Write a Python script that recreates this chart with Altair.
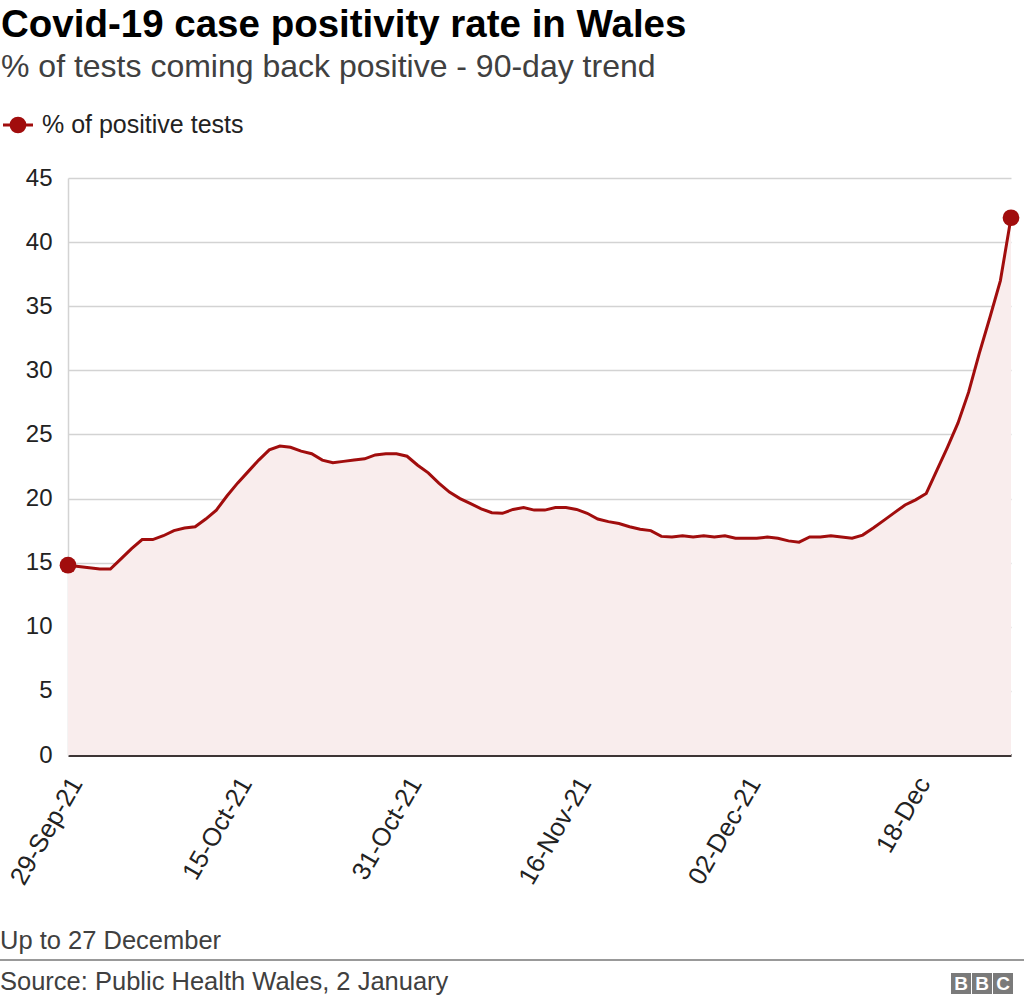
import altair as alt
import pandas as pd

# ---- data ----
title_text = "Covid-19 case positivity rate in Wales"
subtitle_text = "% of tests coming back positive - 90-day trend"
legend_text = "% of positive tests"
note_text = "Up to 27 December"
source_text = "Source: Public Health Wales, 2 January"

dates = pd.date_range("2021-09-29", "2021-12-27", freq="D").strftime("%Y-%m-%d").tolist()
values = [
    14.8, 14.7, 14.6, 14.5, 14.5, 15.3, 16.1, 16.8, 16.8, 17.1,
    17.5, 17.7, 17.8, 18.4, 19.1, 20.2, 21.2, 22.1, 23.0, 23.8,
    24.1, 24.0, 23.7, 23.5, 23.0, 22.8, 22.9, 23.0, 23.1, 23.4,
    23.5, 23.5, 23.3, 22.6, 22.0, 21.2, 20.5, 20.0, 19.6, 19.2,
    18.9, 18.85, 19.15, 19.3, 19.1, 19.1, 19.3, 19.3, 19.15, 18.85,
    18.4, 18.2, 18.05, 17.8, 17.6, 17.5, 17.05, 17.0, 17.1, 17.0,
    17.1, 17.0, 17.1, 16.9, 16.9, 16.9, 17.0, 16.9, 16.7, 16.6,
    17.0, 17.0, 17.1, 17.0, 16.9, 17.15, 17.7, 18.3, 18.9, 19.5,
    19.9, 20.4, 22.2, 24.0, 25.9, 28.3, 31.3, 34.1, 37.0, 41.9,
]
tick_keys = ["2021-09-29", "2021-10-15", "2021-10-31", "2021-11-16", "2021-12-02", "2021-12-18"]
tick_labels = ["29-Sep-21", "15-Oct-21", "31-Oct-21", "16-Nov-21", "02-Dec-21", "18-Dec"]
y_ticks = [0, 5, 10, 15, 20, 25, 30, 35, 40, 45]

RED = "#a10d0d"
FILL = "#f9eded"
FONT = "Liberation Sans"

df = pd.DataFrame({"date": dates, "value": values})
df_end = df.iloc[[0, -1]]


def dt(s):
    y, m, d = (int(p) for p in s.split("-"))
    return alt.DateTime(year=y, month=m, date=d, utc=True)


label_expr = f"{tick_labels}[indexof({tick_keys}, utcFormat(datum.value, '%Y-%m-%d'))]"

x_enc = alt.X(
    "date:T",
    scale=alt.Scale(type="utc", domain=[dt(dates[0]), dt(dates[-1])], nice=False),
    axis=alt.Axis(
        values=[dt(k) for k in tick_keys],
        labelExpr=label_expr,
        title=None,
        grid=False,
        ticks=False,
        domainColor="#3d3535",
        domainWidth=3,
        labelAngle=-60,
        labelAlign="right",
        labelBaseline="middle",
        labelPadding=24,
        labelOffset=8,
        labelFont=FONT,
        labelFontSize=25.5,
        labelColor="#222222",
        labelOverlap=False,
    ),
)
y_enc = alt.Y(
    "value:Q",
    scale=alt.Scale(domain=[0, 45], nice=False, zero=True),
    axis=alt.Axis(
        values=y_ticks,
        title=None,
        grid=True,
        gridColor="#d3d3d3",
        gridWidth=1.5,
        ticks=False,
        domain=True,
        domainColor="#d3d3d3",
        domainWidth=1.5,
        labelPadding=16,
        labelFont=FONT,
        labelFontSize=24,
        labelColor="#222222",
    ),
)

base = alt.Chart(df)
area = base.mark_area(color=FILL, opacity=1).encode(x=x_enc, y=y_enc)
line = base.mark_line(color=RED, strokeWidth=3).encode(x="date:T", y="value:Q")
ends = alt.Chart(df_end).mark_point(filled=True, color=RED, size=280, opacity=1).encode(
    x="date:T", y="value:Q"
)


def text_layer(txt, x, y, size, color="#222222", weight="normal", baseline="middle"):
    return alt.Chart(pd.DataFrame({"t": [txt]})).mark_text(
        align="left", baseline=baseline, font=FONT, fontSize=size, color=color, fontWeight=weight
    ).encode(text="t:N", x=alt.value(x), y=alt.value(y))


one = pd.DataFrame({"k": [0]})
title = text_layer(title_text, -67, -141, 38.5, color="#000000", weight="bold", baseline="alphabetic")
subtitle = text_layer(subtitle_text, -67, -101, 32, color="#404040", baseline="alphabetic")
leg_line = alt.Chart(one).mark_rule(color=RED, strokeWidth=3).encode(
    x=alt.value(-65), x2=alt.value(-35), y=alt.value(-53)
)
leg_dot = alt.Chart(one).mark_point(filled=True, color=RED, size=280, opacity=1).encode(
    x=alt.value(-50), y=alt.value(-53)
)
leg_text = text_layer(legend_text, -26, -53, 25, color="#222222")
note = text_layer(note_text, -68, 763, 25.5, color="#404040")
sep = alt.Chart(one).mark_rule(color="#999999", strokeWidth=2).encode(
    x=alt.value(-68), x2=alt.value(956), y=alt.value(782)
)
source = text_layer(source_text, -68, 804, 25.5, color="#404040")

logo_df = pd.DataFrame({"letter": ["B", "B", "C"], "x0": [883, 904, 925]})
logo_rects = alt.Chart(logo_df).mark_rect(color="#7a7a7a").encode(
    x=alt.X("x0:Q", scale=None), x2=alt.X2("x1:Q"), y=alt.value(795), y2=alt.value(816)
).transform_calculate(x1="datum.x0 + 20")
logo_text = alt.Chart(logo_df).mark_text(
    font=FONT, fontSize=19, fontWeight="bold", color="white", baseline="middle", align="center"
).encode(x=alt.X("xc:Q", scale=None), y=alt.value(806), text="letter:N").transform_calculate(
    xc="datum.x0 + 10"
)

chart = alt.layer(
    area, line, ends, title, subtitle, leg_line, leg_dot, leg_text, note, sep, source,
    logo_rects, logo_text,
).properties(
    width=943,
    height=577,
    autosize=alt.AutoSizeParams(type="none"),
    padding={"left": 68, "top": 178, "right": 13, "bottom": 249},
    background="white",
).configure_view(stroke=None)

chart.save("out.html", embed_options={"renderer": "svg", "actions": False})
